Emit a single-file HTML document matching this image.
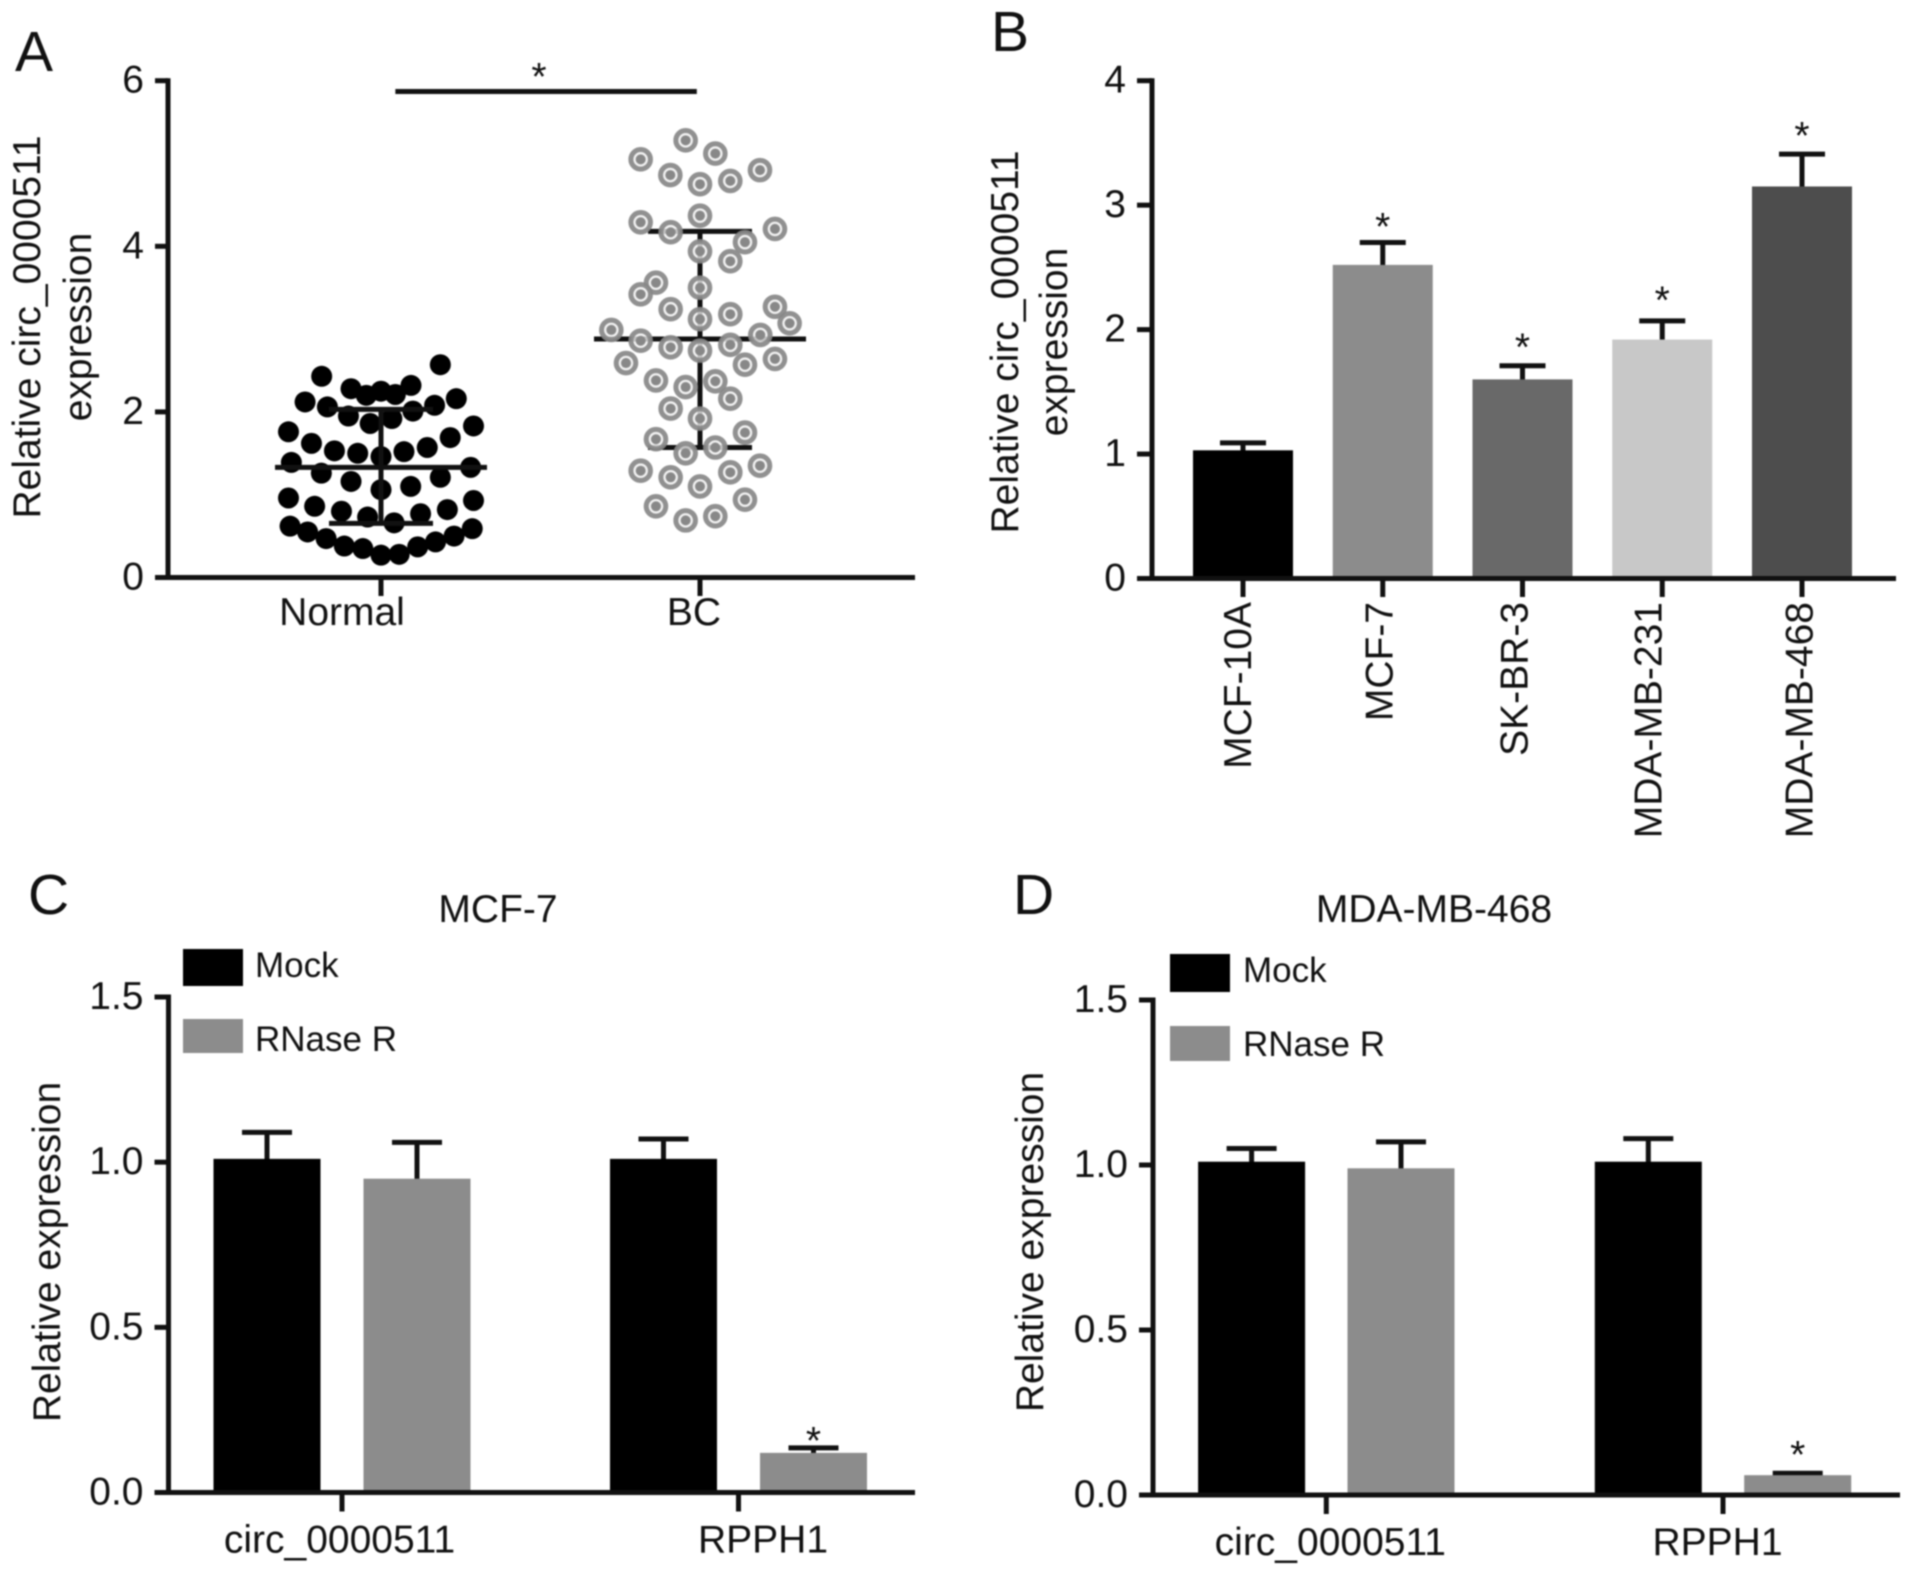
<!DOCTYPE html>
<html>
<head>
<meta charset="utf-8">
<style>
html,body{margin:0;padding:0;background:#fff;}
svg{display:block;filter:blur(0.8px);}
text{font-family:"Liberation Sans",sans-serif;fill:#111;font-size:39px;}
.panel-letter{font-size:57px;}
.legend-text{font-size:35px;}
</style>
</head>
<body>
<svg id="figure" xmlns="http://www.w3.org/2000/svg" width="1913" height="1573" viewBox="0 0 1913 1573">
  <rect width="1913" height="1573" fill="#fff"/>
  <g id="panel-a">
    <text class="panel-letter" x="15" y="71">A</text>
    <text transform="translate(40 327) rotate(-90)" text-anchor="middle">Relative circ_0000511</text>
    <text transform="translate(91 327) rotate(-90)" text-anchor="middle">expression</text>
  </g>
  <g id="panel-b">
    <text class="panel-letter" x="991" y="51">B</text>
    <text transform="translate(1018 342) rotate(-90)" text-anchor="middle">Relative circ_0000511</text>
    <text transform="translate(1067 342) rotate(-90)" text-anchor="middle">expression</text>
  </g>
  <g id="panel-c">
    <text class="panel-letter" x="28" y="914">C</text>
    <text x="498" y="922" text-anchor="middle">MCF-7</text>
    <text transform="translate(60 1252) rotate(-90)" text-anchor="middle">Relative expression</text>
    <rect x="183" y="949" width="60" height="37" fill="#000"/>
    <text class="legend-text" x="255" y="977">Mock</text>
    <rect x="183" y="1019" width="60" height="34" fill="#8c8c8c"/>
    <text class="legend-text" x="255" y="1051">RNase R</text>
  </g>
  <g id="panel-d">
    <text class="panel-letter" x="1013" y="914">D</text>
    <text x="1434" y="922" text-anchor="middle">MDA-MB-468</text>
    <text transform="translate(1043 1242) rotate(-90)" text-anchor="middle">Relative expression</text>
    <rect x="1170" y="954" width="60" height="38" fill="#000"/>
    <text class="legend-text" x="1243" y="982">Mock</text>
    <rect x="1170" y="1026" width="60" height="35" fill="#8c8c8c"/>
    <text class="legend-text" x="1243" y="1056">RNase R</text>
  </g>
</svg>
<script>
// Panel A data
const groupsA = ["Normal", "BC"];
const ticksA = [0, 2, 4, 6];
const normalValues = [2.57,2.43,2.28,2.32,2.20,2.25,2.21,2.12,2.06,2.08,2.16,1.95,2.01,1.86,1.92,1.83,1.76,1.69,1.62,1.53,1.50,1.46,1.52,1.57,1.39,1.26,1.33,1.16,1.21,1.06,1.10,0.96,0.93,0.86,0.82,0.80,0.73,0.77,0.66,0.62,0.55,0.47,0.38,0.35,0.27,0.28,0.37,0.43,0.50,0.59];
const normalSwarm = [0.186,-0.186,-0.094,0.094,-0.046,0,0.045,-0.238,-0.168,0.168,0.236,-0.102,0.100,-0.034,0.034,0.290,-0.290,0.217,-0.218,-0.146,-0.073,0,0.072,0.145,-0.281,-0.187,0.281,-0.094,0.186,0,0.093,-0.290,0.290,-0.208,0.208,-0.124,-0.042,0.124,0.041,-0.285,-0.230,-0.172,-0.115,-0.057,0,0.057,0.115,0.171,0.229,0.286];
const bcValues = [5.28,5.12,5.05,4.86,4.75,4.79,4.92,4.29,4.37,4.17,4.21,4.05,3.94,3.82,3.56,3.42,3.50,3.24,3.18,3.27,3.12,3.07,2.99,2.93,2.86,2.78,2.81,2.74,2.64,2.57,2.59,2.38,2.37,2.30,2.16,2.04,1.92,1.75,1.67,1.57,1.50,1.35,1.29,1.27,1.21,1.10,0.94,0.86,0.74,0.69];
const bcSwarm = [-0.045,0.048,-0.186,-0.093,0,0.095,0.188,-0.186,0,-0.092,0.235,0.141,0,0.095,-0.138,-0.186,0,-0.092,0.095,0.235,0,0.281,-0.278,0.189,-0.186,-0.092,0.095,0,0.235,0.141,-0.232,-0.138,0.048,-0.045,0.095,-0.092,0,0.141,-0.138,0.048,-0.045,0.188,-0.186,0.095,-0.092,0,0.141,-0.138,0.048,-0.045];
const normalSummary = [0.654, 1.33, 2.03];
const bcSummary = [1.57, 2.88, 4.18];
const significanceA = [0.045, 0.99];
const significanceLevelA = 5.87;

// Panel B data
const cellLines = ["MCF-10A", "MCF-7", "SK-BR-3", "MDA-MB-231", "MDA-MB-468"];
const ticksB = [0, 1, 2, 3, 4];
const valuesB = [1.03, 2.52, 1.60, 1.92, 3.15];
const errorTopsB = [1.09, 2.70, 1.71, 2.07, 3.41];
const starLevelsB = [null, 2.89, 1.92, 2.30, 3.62];

// Panels C and D data
const genes = ["circ_0000511", "RPPH1"];
const ticksCD = ["0.0", "0.5", "1.0", "1.5"];
const mockC = [1.01, 1.01];
const mockTopsC = [1.09, 1.07];
const rnaseC = [0.95, 0.12];
const rnaseTopsC = [1.06, 0.135];
const mockD = [1.01, 1.01];
const mockTopsD = [1.05, 1.08];
const rnaseD = [0.99, 0.06];
const rnaseTopsD = [1.07, 0.066];

const NS = "http://www.w3.org/2000/svg";

function linear(d0, d1, r0, r1) {
  return function (v) { return r0 + (v - d0) * (r1 - r0) / (d1 - d0); };
}
function line(parent, x1, y1, x2, y2, w, color, name) {
  const el = document.createElementNS(NS, "line");
  el.setAttribute("x1", x1);
  el.setAttribute("y1", y1);
  el.setAttribute("x2", x2);
  el.setAttribute("y2", y2);
  el.setAttribute("stroke", color);
  el.setAttribute("stroke-width", w);
  
  
  parent.appendChild(el);
  return el;
}
function rect(parent, x, y, w, h, color, name) {
  const el = document.createElementNS(NS, "rect");
  el.setAttribute("x", x);
  el.setAttribute("y", y);
  el.setAttribute("width", w);
  el.setAttribute("height", h);
  el.setAttribute("fill", color);
  
  
  parent.appendChild(el);
  return el;
}
function label(parent, str, x, y, anchor, rotate, name) {
  const el = document.createElementNS(NS, "text");
  el.textContent = str;
  el.setAttribute("text-anchor", anchor);
  if (rotate) {
    el.setAttribute("transform", "translate(" + x + " " + y + ") rotate(-90)");
  } else {
    el.setAttribute("x", x);
    el.setAttribute("y", y);
  }
  
  
  parent.appendChild(el);
  return el;
}
function star(parent, x, cy, name) {
  return label(parent, "*", x, cy + 21, "middle", false, name);
}
function axes(parent, yScale, ticks, xLeft, xStart, xEnd, y0, suffix) {
  line(parent, xLeft, yScale(Number(ticks[ticks.length - 1])) - 2.5, xLeft, y0 + 2.5, 5, "#111", "y-axis-line-" + suffix);
  line(parent, xStart, y0, xEnd, y0, 5, "#111", "x-axis-line-" + suffix);
  ticks.forEach(function (t) {
    const y = yScale(Number(t));
    line(parent, xStart, y, xLeft, y, 5, "#111", "y-tick-" + suffix);
    label(parent, String(t), xStart - 11, y + 12, "end", false, "y-tick-label-" + suffix);
  });
}
function errorBar(parent, x, yFrom, yTo, halfCap, name) {
  line(parent, x, yFrom + 3, x, yTo, 5, "#111", name + "-stem");
  line(parent, x - halfCap, yTo, x + halfCap, yTo, 5, "#111", name + "-cap");
}

// ---------- Panel A ----------
(function () {
  const g = document.getElementById("panel-a");
  const y = linear(0, 6, 577.5, 80.7);
  const x = linear(0, 1, 381, 700);
  axes(g, y, ticksA, 168, 155, 915, 577.5, "a");
  groupsA.forEach(function (name, i) {
    line(g, x(i), 577.5, x(i), 596, 5, "#111", "x-tick-a");
    label(g, name, x(i) - (i === 0 ? 39 : 6), 625, "middle", false, "x-tick-label-a");
  });
  normalValues.forEach(function (v, i) {
    const c = document.createElementNS(NS, "circle");
    c.setAttribute("cx", x(normalSwarm[i]));
    c.setAttribute("cy", y(v));
    c.setAttribute("r", 10.5);
    c.setAttribute("fill", "#000");
    
    
    g.appendChild(c);
  });
  function summary(stats, cx, name) {
    line(g, cx - 106, y(stats[1]), cx + 106, y(stats[1]), 5, "#111", name + "-mean");
    line(g, cx, y(stats[0]), cx, y(stats[2]), 5, "#111", name + "-sd-stem");
    line(g, cx - 52, y(stats[0]), cx + 52, y(stats[0]), 5, "#111", name + "-sd-lower");
    line(g, cx - 52, y(stats[2]), cx + 52, y(stats[2]), 5, "#111", name + "-sd-upper");
  }
  summary(normalSummary, x(0), "normal");
  summary(bcSummary, x(1), "bc");
  bcValues.forEach(function (v, i) {
    const ring = document.createElementNS(NS, "circle");
    ring.setAttribute("cx", x(1 + bcSwarm[i]));
    ring.setAttribute("cy", y(v));
    ring.setAttribute("r", 9.8);
    ring.setAttribute("fill", "#eee");
    ring.setAttribute("fill-opacity", "0.8");
    ring.setAttribute("stroke", "#888");
    ring.setAttribute("stroke-opacity", "0.92");
    ring.setAttribute("stroke-width", 5);
    
    
    g.appendChild(ring);
    const core = document.createElementNS(NS, "circle");
    core.setAttribute("cx", x(1 + bcSwarm[i]));
    core.setAttribute("cy", y(v));
    core.setAttribute("r", 5);
    core.setAttribute("fill", "#888");
    
    
    g.appendChild(core);
  });
  line(g, x(significanceA[0]), y(significanceLevelA), x(significanceA[1]), y(significanceLevelA), 5, "#111", "significance-bar");
  star(g, 539, 69, "significance-star-a");
})();

// ---------- Panel B ----------
(function () {
  const g = document.getElementById("panel-b");
  const y = linear(0, 4, 578.5, 80.7);
  const x = linear(0, 4, 1243, 1802);
  const colors = ["#000", "#8c8c8c", "#696969", "#c8c8c8", "#4d4d4d"];
  const labelShift = [8, 9.5, 5, -1, 10.5];
  valuesB.forEach(function (v, i) {
    errorBar(g, x(i), y(v), y(errorTopsB[i]), 23, "error-bar-b");
    rect(g, x(i) - 50, y(v), 100, y(0) - y(v), colors[i], "bar-" + cellLines[i].toLowerCase());
    if (starLevelsB[i] !== null) star(g, x(i), y(starLevelsB[i]), "significance-star-b");
  });
  axes(g, y, ticksB, 1152, 1137, 1896, 578.5, "b");
  cellLines.forEach(function (name, i) {
    line(g, x(i), 578.5, x(i), 597, 5, "#111", "x-tick-b");
    label(g, name, x(i) + labelShift[i], 602, "end", true, "x-tick-label-b");
  });
})();

// ---------- Panels C and D ----------
function groupedPanel(id, suffix, o, mock, mockTops, rnase, rnaseTops, starY) {
  const g = document.getElementById(id);
  const y = linear(0, 1.5, o.y0, o.y15);
  const x = linear(0, 1, o.x0, o.x1);
  genes.forEach(function (name, i) {
    const cx = x(i);
    errorBar(g, cx - o.offset, y(mock[i]), y(mockTops[i]), 25, "error-bar-mock-" + suffix);
    rect(g, cx - o.offset - o.half, y(mock[i]), o.half * 2, y(0) - y(mock[i]), "#000", "bar-mock-" + suffix);
    errorBar(g, cx + o.offset, y(rnase[i]), y(rnaseTops[i]), 25, "error-bar-rnase-" + suffix);
    rect(g, cx + o.offset - o.half, y(rnase[i]), o.half * 2, y(0) - y(rnase[i]), "#8c8c8c", "bar-rnase-" + suffix);
    line(g, cx, o.y0, cx, o.y0 + 19, 5, "#111", "x-tick-" + suffix);
    label(g, name, cx + o.labelShift[i], o.y0 + 60, "middle", false, "x-tick-label-" + suffix);
  });
  star(g, x(1) + o.offset, starY, "significance-star-" + suffix);
  axes(g, y, ticksCD, o.axisX, o.axisX - 14, o.axisEnd, o.y0, suffix);
}
groupedPanel("panel-c", "c",
  {y0: 1492.5, y15: 997, x0: 342, x1: 738.5, offset: 75, half: 53.5, axisX: 168.5, axisEnd: 915, labelShift: [-2.5, 24.5]},
  mockC, mockTopsC, rnaseC, rnaseTopsC, 1433);
groupedPanel("panel-d", "d",
  {y0: 1495, y15: 1000, x0: 1326.3, x1: 1723, offset: 74.7, half: 53.5, axisX: 1153, axisEnd: 1900, labelShift: [4, -5.5]},
  mockD, mockTopsD, rnaseD, rnaseTopsD, 1447);
</script>
</body>
</html>
